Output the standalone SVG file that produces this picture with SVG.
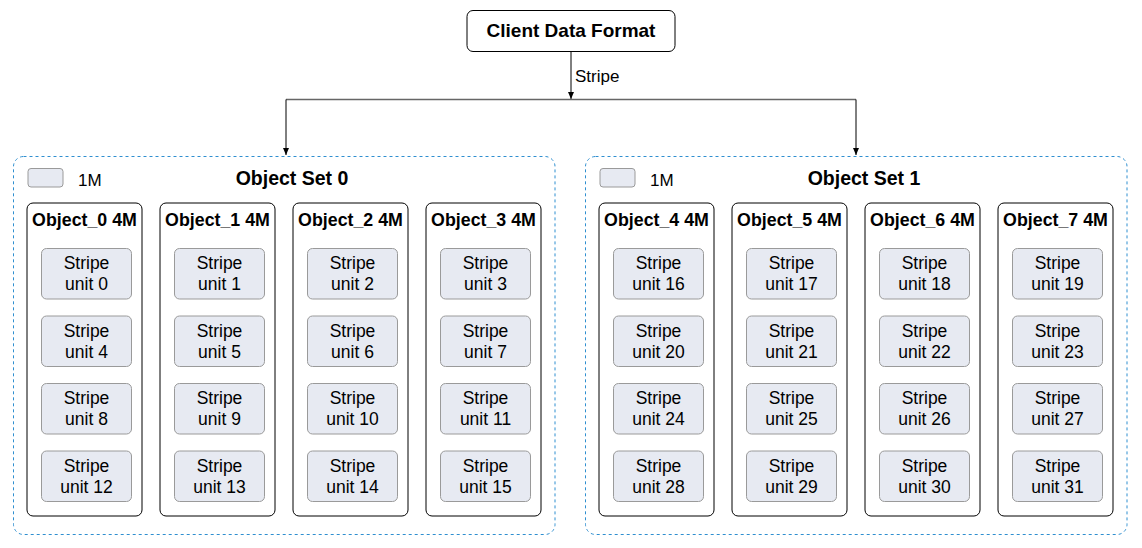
<svg xmlns="http://www.w3.org/2000/svg" width="1142" height="548" viewBox="0 0 1142 548">
<defs>
<style>
.set{fill:#ffffff;stroke:#2f8fd0;stroke-width:1;stroke-dasharray:3,3}
.obj{fill:#ffffff;stroke:#000000;stroke-width:1}
.unit{fill:#e7eaf2;stroke:#9a9a9a;stroke-width:1}
.client{fill:#ffffff;stroke:#000000;stroke-width:1}
.t{font-family:"Liberation Sans",Arial,sans-serif;fill:#000000;text-anchor:middle}
.ut{font-size:17.5px}
.ot{font-size:17.8px;font-weight:bold}
.st{font-size:19.5px;font-weight:bold}
.lg{font-family:"Liberation Sans",Arial,sans-serif;font-size:17px;fill:#000000}
.conn{fill:none;stroke:#000000;stroke-width:1}
.bus{fill:none;stroke:#666666;stroke-width:1.5}
</style>
<marker id="arr" markerWidth="8" markerHeight="8" refX="7" refY="4" orient="auto" markerUnits="userSpaceOnUse">
<path d="M0,1 L7,4 L0,7 Z" fill="#000000"/>
</marker>
</defs>
<rect width="1142" height="548" fill="#ffffff"/>

<g id="client">
<rect class="client" x="467" y="10.5" width="208" height="41" rx="6"/>
<text class="t" x="571" y="36.7" font-size="19px" font-weight="bold">Client Data Format</text>
</g>

<g id="connectors">
<path class="conn" d="M571,52 L571,99" marker-end="url(#arr)"/>
<path class="bus" d="M286,99.5 L856,99.5"/>
<path class="conn" d="M286,99.5 L286,155" marker-end="url(#arr)"/>
<path class="conn" d="M856,99.5 L856,155" marker-end="url(#arr)"/>
<text class="lg" x="575" y="82" font-size="17.5px">Stripe</text>
</g>

<g id="set0">
<rect class="set" x="13.5" y="156.5" width="541.5" height="378" rx="10"/>
<rect class="unit" x="28" y="168.5" width="35" height="18.5" rx="3"/>
<text class="lg" x="78" y="186">1M</text>
<text class="t st" x="292" y="185">Object Set 0</text>
</g>
<g id="set1">
<rect class="set" x="585.5" y="156.5" width="541.5" height="378" rx="10"/>
<rect class="unit" x="600" y="168.5" width="35" height="18.5" rx="3"/>
<text class="lg" x="650" y="186">1M</text>
<text class="t st" x="864" y="185">Object Set 1</text>
</g>

<g id="object0">
<rect class="obj" x="27" y="203" width="115" height="313" rx="6"/>
<text class="t ot" x="84.5" y="225.5">Object_0 4M</text>
<rect class="unit" x="41.5" y="248.5" width="90" height="50.5" rx="5"/><text class="t ut" x="86.5" y="269">Stripe</text><text class="t ut" x="86.5" y="290">unit 0</text>
<rect class="unit" x="41.5" y="316" width="90" height="50.5" rx="5"/><text class="t ut" x="86.5" y="336.5">Stripe</text><text class="t ut" x="86.5" y="357.5">unit 4</text>
<rect class="unit" x="41.5" y="383.5" width="90" height="50.5" rx="5"/><text class="t ut" x="86.5" y="404">Stripe</text><text class="t ut" x="86.5" y="425">unit 8</text>
<rect class="unit" x="41.5" y="451" width="90" height="50.5" rx="5"/><text class="t ut" x="86.5" y="471.5">Stripe</text><text class="t ut" x="86.5" y="492.5">unit 12</text>
</g>
<g id="object1">
<rect class="obj" x="160" y="203" width="115" height="313" rx="6"/>
<text class="t ot" x="217.5" y="225.5">Object_1 4M</text>
<rect class="unit" x="174.5" y="248.5" width="90" height="50.5" rx="5"/><text class="t ut" x="219.5" y="269">Stripe</text><text class="t ut" x="219.5" y="290">unit 1</text>
<rect class="unit" x="174.5" y="316" width="90" height="50.5" rx="5"/><text class="t ut" x="219.5" y="336.5">Stripe</text><text class="t ut" x="219.5" y="357.5">unit 5</text>
<rect class="unit" x="174.5" y="383.5" width="90" height="50.5" rx="5"/><text class="t ut" x="219.5" y="404">Stripe</text><text class="t ut" x="219.5" y="425">unit 9</text>
<rect class="unit" x="174.5" y="451" width="90" height="50.5" rx="5"/><text class="t ut" x="219.5" y="471.5">Stripe</text><text class="t ut" x="219.5" y="492.5">unit 13</text>
</g>
<g id="object2">
<rect class="obj" x="293" y="203" width="115" height="313" rx="6"/>
<text class="t ot" x="350.5" y="225.5">Object_2 4M</text>
<rect class="unit" x="307.5" y="248.5" width="90" height="50.5" rx="5"/><text class="t ut" x="352.5" y="269">Stripe</text><text class="t ut" x="352.5" y="290">unit 2</text>
<rect class="unit" x="307.5" y="316" width="90" height="50.5" rx="5"/><text class="t ut" x="352.5" y="336.5">Stripe</text><text class="t ut" x="352.5" y="357.5">unit 6</text>
<rect class="unit" x="307.5" y="383.5" width="90" height="50.5" rx="5"/><text class="t ut" x="352.5" y="404">Stripe</text><text class="t ut" x="352.5" y="425">unit 10</text>
<rect class="unit" x="307.5" y="451" width="90" height="50.5" rx="5"/><text class="t ut" x="352.5" y="471.5">Stripe</text><text class="t ut" x="352.5" y="492.5">unit 14</text>
</g>
<g id="object3">
<rect class="obj" x="426" y="203" width="115" height="313" rx="6"/>
<text class="t ot" x="483.5" y="225.5">Object_3 4M</text>
<rect class="unit" x="440.5" y="248.5" width="90" height="50.5" rx="5"/><text class="t ut" x="485.5" y="269">Stripe</text><text class="t ut" x="485.5" y="290">unit 3</text>
<rect class="unit" x="440.5" y="316" width="90" height="50.5" rx="5"/><text class="t ut" x="485.5" y="336.5">Stripe</text><text class="t ut" x="485.5" y="357.5">unit 7</text>
<rect class="unit" x="440.5" y="383.5" width="90" height="50.5" rx="5"/><text class="t ut" x="485.5" y="404">Stripe</text><text class="t ut" x="485.5" y="425">unit 11</text>
<rect class="unit" x="440.5" y="451" width="90" height="50.5" rx="5"/><text class="t ut" x="485.5" y="471.5">Stripe</text><text class="t ut" x="485.5" y="492.5">unit 15</text>
</g>
<g id="object4">
<rect class="obj" x="599" y="203" width="115" height="313" rx="6"/>
<text class="t ot" x="656.5" y="225.5">Object_4 4M</text>
<rect class="unit" x="613.5" y="248.5" width="90" height="50.5" rx="5"/><text class="t ut" x="658.5" y="269">Stripe</text><text class="t ut" x="658.5" y="290">unit 16</text>
<rect class="unit" x="613.5" y="316" width="90" height="50.5" rx="5"/><text class="t ut" x="658.5" y="336.5">Stripe</text><text class="t ut" x="658.5" y="357.5">unit 20</text>
<rect class="unit" x="613.5" y="383.5" width="90" height="50.5" rx="5"/><text class="t ut" x="658.5" y="404">Stripe</text><text class="t ut" x="658.5" y="425">unit 24</text>
<rect class="unit" x="613.5" y="451" width="90" height="50.5" rx="5"/><text class="t ut" x="658.5" y="471.5">Stripe</text><text class="t ut" x="658.5" y="492.5">unit 28</text>
</g>
<g id="object5">
<rect class="obj" x="732" y="203" width="115" height="313" rx="6"/>
<text class="t ot" x="789.5" y="225.5">Object_5 4M</text>
<rect class="unit" x="746.5" y="248.5" width="90" height="50.5" rx="5"/><text class="t ut" x="791.5" y="269">Stripe</text><text class="t ut" x="791.5" y="290">unit 17</text>
<rect class="unit" x="746.5" y="316" width="90" height="50.5" rx="5"/><text class="t ut" x="791.5" y="336.5">Stripe</text><text class="t ut" x="791.5" y="357.5">unit 21</text>
<rect class="unit" x="746.5" y="383.5" width="90" height="50.5" rx="5"/><text class="t ut" x="791.5" y="404">Stripe</text><text class="t ut" x="791.5" y="425">unit 25</text>
<rect class="unit" x="746.5" y="451" width="90" height="50.5" rx="5"/><text class="t ut" x="791.5" y="471.5">Stripe</text><text class="t ut" x="791.5" y="492.5">unit 29</text>
</g>
<g id="object6">
<rect class="obj" x="865" y="203" width="115" height="313" rx="6"/>
<text class="t ot" x="922.5" y="225.5">Object_6 4M</text>
<rect class="unit" x="879.5" y="248.5" width="90" height="50.5" rx="5"/><text class="t ut" x="924.5" y="269">Stripe</text><text class="t ut" x="924.5" y="290">unit 18</text>
<rect class="unit" x="879.5" y="316" width="90" height="50.5" rx="5"/><text class="t ut" x="924.5" y="336.5">Stripe</text><text class="t ut" x="924.5" y="357.5">unit 22</text>
<rect class="unit" x="879.5" y="383.5" width="90" height="50.5" rx="5"/><text class="t ut" x="924.5" y="404">Stripe</text><text class="t ut" x="924.5" y="425">unit 26</text>
<rect class="unit" x="879.5" y="451" width="90" height="50.5" rx="5"/><text class="t ut" x="924.5" y="471.5">Stripe</text><text class="t ut" x="924.5" y="492.5">unit 30</text>
</g>
<g id="object7">
<rect class="obj" x="998" y="203" width="115" height="313" rx="6"/>
<text class="t ot" x="1055.5" y="225.5">Object_7 4M</text>
<rect class="unit" x="1012.5" y="248.5" width="90" height="50.5" rx="5"/><text class="t ut" x="1057.5" y="269">Stripe</text><text class="t ut" x="1057.5" y="290">unit 19</text>
<rect class="unit" x="1012.5" y="316" width="90" height="50.5" rx="5"/><text class="t ut" x="1057.5" y="336.5">Stripe</text><text class="t ut" x="1057.5" y="357.5">unit 23</text>
<rect class="unit" x="1012.5" y="383.5" width="90" height="50.5" rx="5"/><text class="t ut" x="1057.5" y="404">Stripe</text><text class="t ut" x="1057.5" y="425">unit 27</text>
<rect class="unit" x="1012.5" y="451" width="90" height="50.5" rx="5"/><text class="t ut" x="1057.5" y="471.5">Stripe</text><text class="t ut" x="1057.5" y="492.5">unit 31</text>
</g>
</svg>
